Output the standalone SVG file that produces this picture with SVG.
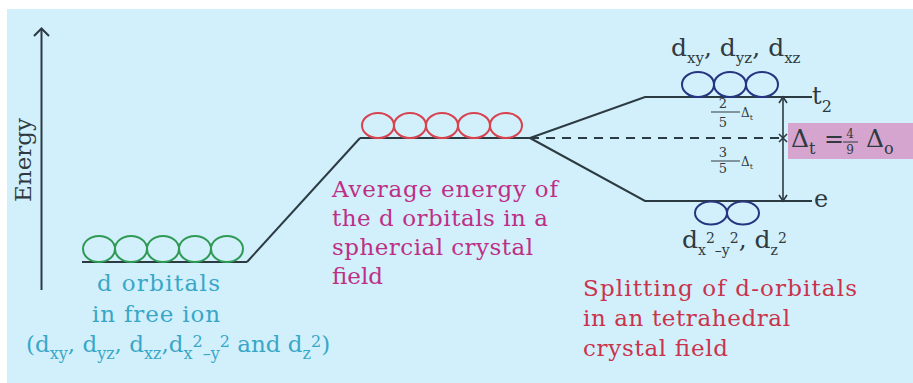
<svg xmlns="http://www.w3.org/2000/svg" width="913" height="383" viewBox="0 0 913 383">
<style>
.ln{stroke:#2c3a42;stroke-width:2;fill:none}
.lv{stroke:#2c3a42;stroke-width:1.6;fill:none}
.g{stroke:#2f9a55;stroke-width:2;fill:none}
.r{stroke:#d8424e;stroke-width:2;fill:none}
.b{stroke:#26357f;stroke-width:2;fill:none}
text{font-family:"DejaVu Serif","Liberation Serif",serif}
.cy{fill:#38a7c7;font-size:23px}
.mg{fill:#bd2f86;font-size:23px}
.cr{fill:#c9334c;font-size:23px}
.dk{fill:#2f3a40}
</style>
<rect x="0" y="0" width="913" height="383" fill="#ffffff"/>
<rect x="7" y="9" width="906" height="374" fill="#d2f0fc"/>

<g id="energy-axis">
<line class="ln" x1="41.5" y1="290" x2="41.5" y2="29"/>
<polyline class="ln" points="34,36 41.5,28.5 49,36"/>
<text class="dk" font-size="23" transform="translate(31,160) rotate(-90)" text-anchor="middle">Energy</text>
</g>

<g id="connectors">
<line class="ln" x1="82" y1="262" x2="247" y2="262"/>
<line class="ln" x1="247" y1="262" x2="360" y2="138"/>
<line class="ln" x1="360" y1="138" x2="530" y2="138"/>
<polyline class="ln" points="530,138 645,97 812,97"/>
<polyline class="ln" points="530,138 645,201 812,201"/>
<line class="ln" x1="530" y1="138" x2="783" y2="138" stroke-dasharray="9 7"/>
<line class="lv" x1="783" y1="97" x2="783" y2="201"/>
<polyline class="lv" points="779,103 783,97 787,103"/>
<polyline class="lv" points="779,195 783,201 787,195"/>
<path class="lv" d="M779,134 L787,142 M787,134 L779,142"/>
</g>

<g id="free-ion">
<ellipse class="g" cx="99" cy="249" rx="16" ry="13"/>
<ellipse class="g" cx="131" cy="249" rx="16" ry="13"/>
<ellipse class="g" cx="163" cy="249" rx="16" ry="13"/>
<ellipse class="g" cx="195" cy="249" rx="16" ry="13"/>
<ellipse class="g" cx="227" cy="249" rx="16" ry="13"/>
<text class="cy" x="97" y="291" textLength="123">d  orbitals</text>
<text class="cy" x="92" y="322" textLength="128">in free ion</text>
<text class="cy" y="352" font-size="25"><tspan x="26">(d</tspan><tspan font-size="16" dy="7">xy</tspan><tspan dy="-7">, d</tspan><tspan font-size="16" dy="7">yz</tspan><tspan dy="-7">, d</tspan><tspan font-size="16" dy="7">xz</tspan><tspan dy="-7">,d</tspan><tspan font-size="16" dy="7">x</tspan><tspan font-size="16" dy="-12">2</tspan><tspan font-size="16" dy="12">–y</tspan><tspan font-size="16" dy="-12">2</tspan><tspan dy="5"> and d</tspan><tspan font-size="16" dy="7">z</tspan><tspan font-size="16" dy="-12">2</tspan><tspan dy="5">)</tspan></text>
</g>

<g id="spherical-field">
<ellipse class="r" cx="378" cy="125.5" rx="16" ry="12.5"/>
<ellipse class="r" cx="410" cy="125.5" rx="16" ry="12.5"/>
<ellipse class="r" cx="442" cy="125.5" rx="16" ry="12.5"/>
<ellipse class="r" cx="474" cy="125.5" rx="16" ry="12.5"/>
<ellipse class="r" cx="506" cy="125.5" rx="16" ry="12.5"/>
<text class="mg" x="332" y="197" textLength="226">Average energy of</text>
<text class="mg" x="332" y="226" textLength="216">the d orbitals in a</text>
<text class="mg" x="332" y="255" textLength="201">sphercial crystal</text>
<text class="mg" x="332" y="284" textLength="51">field</text>
</g>

<g id="t2-level">
<ellipse class="b" cx="698" cy="84.5" rx="16" ry="12.5"/>
<ellipse class="b" cx="730" cy="84.5" rx="16" ry="12.5"/>
<ellipse class="b" cx="762" cy="84.5" rx="16" ry="12.5"/>
<text class="dk" font-size="25" y="56"><tspan x="671">d</tspan><tspan font-size="15" dy="7">xy</tspan><tspan dy="-7">, d</tspan><tspan font-size="15" dy="7">yz</tspan><tspan dy="-7">, d</tspan><tspan font-size="15" dy="7">xz</tspan></text>
<text class="dk" font-size="24" y="104"><tspan x="812">t</tspan><tspan font-size="16" dy="8">2</tspan></text>
</g>

<g id="e-level">
<ellipse class="b" cx="711" cy="213" rx="16" ry="11.5"/>
<ellipse class="b" cx="743" cy="213" rx="16" ry="11.5"/>
<text class="dk" font-size="25" y="248"><tspan x="682">d</tspan><tspan font-size="14" dy="7">x</tspan><tspan font-size="14" dy="-12">2</tspan><tspan font-size="14" dy="12">–y</tspan><tspan font-size="14" dy="-12">2</tspan><tspan dy="5">, d</tspan><tspan font-size="14" dy="7">z</tspan><tspan font-size="14" dy="-12">2</tspan></text>
<text class="dk" font-size="24" x="814" y="207">e</text>
</g>

<g id="splitting-fractions">
<text class="dk" font-size="13" x="723" y="108" text-anchor="middle">2</text>
<line x1="711" y1="112" x2="740" y2="112" stroke="#2f3a40" stroke-width="1"/>
<text class="dk" font-size="13" x="723" y="127" text-anchor="middle">5</text>
<text class="dk" font-size="12" x="741" y="117">Δ<tspan font-size="8" dy="3">t</tspan></text>
<text class="dk" font-size="13" x="723" y="157" text-anchor="middle">3</text>
<line x1="711" y1="161" x2="740" y2="161" stroke="#2f3a40" stroke-width="1"/>
<text class="dk" font-size="13" x="723" y="173" text-anchor="middle">5</text>
<text class="dk" font-size="12" x="741" y="166">Δ<tspan font-size="8" dy="3">t</tspan></text>
</g>

<g id="delta-box">
<rect x="788" y="123" width="125" height="36" fill="#d6a5cf"/>
<text class="dk" font-size="25" x="791" y="147">Δ<tspan font-size="16" dy="7">t</tspan></text>
<text class="dk" font-size="24" x="824" y="147">=</text>
<text class="dk" font-size="12" x="850" y="138" text-anchor="middle">4</text>
<line x1="843" y1="142" x2="858" y2="142" stroke="#2f3a40" stroke-width="1"/>
<text class="dk" font-size="12" x="850" y="154" text-anchor="middle">9</text>
<text class="dk" font-size="25" x="866" y="147">Δ<tspan font-size="16" dy="7">o</tspan></text>
</g>

<g id="tetrahedral-caption">
<text class="cr" x="583" y="296" textLength="274">Splitting of  d-orbitals</text>
<text class="cr" x="583" y="326" textLength="207">in an tetrahedral</text>
<text class="cr" x="583" y="356" textLength="145">crystal field</text>
</g>
</svg>
